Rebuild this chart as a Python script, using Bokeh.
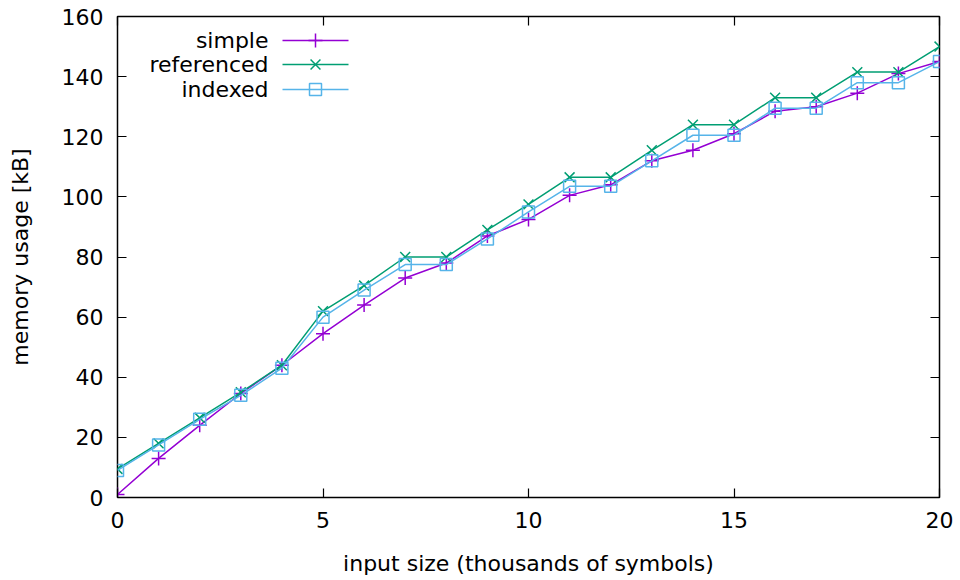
from bokeh.plotting import figure
from bokeh.models import LinearAxis, Range1d, FixedTicker, Label
from bokeh.embed import file_html
from bokeh.resources import INLINE

# ---- data ----
sizes = list(range(0, 21))
simple = [1, 13, 24, 34.6, 44, 54.5, 64, 73, 78, 87, 92.5, 100.5, 104, 112, 115.5,
          121, 128.5, 130, 134.5, 141, 145]
referenced = [9.5, 18, 26.5, 35, 44, 62, 70.5, 80, 80, 89, 97.5, 106.5, 106.5, 115.5,
              124, 124, 133, 133, 141.5, 141.5, 150]
indexed = [9, 17.5, 26, 34, 43, 60, 69, 77.5, 77.5, 86, 95, 103.5, 103.5, 112, 120.5,
           120.5, 129.5, 129.5, 138, 138, 145]
series_names = ["simple", "referenced", "indexed"]
series_colors = ["#9400d3", "#009e73", "#56b4e9"]
x_ticks = [0, 5, 10, 15, 20]
y_ticks = [0, 20, 40, 60, 80, 100, 120, 140, 160]

FONT = "DejaVu Sans"
FS = "22px"

p = figure(width=960, height=580, output_backend="svg", toolbar_location=None,
           x_range=Range1d(0, 20), y_range=Range1d(0, 160),
           min_border_left=117, min_border_right=21, min_border_top=16, min_border_bottom=83,
           x_axis_label="input size (thousands of symbols)",
           y_axis_label="memory usage [kB]")
p.grid.visible = False
p.outline_line_color = "black"
p.outline_line_width = 1.5
p.background_fill_color = "white"
p.border_fill_color = "white"

def style_axis(ax, ticks, labels=True):
    ax.ticker = FixedTicker(ticks=ticks)
    ax.axis_line_color = None
    ax.major_tick_in = 9
    ax.major_tick_out = 0
    ax.minor_tick_in = 0
    ax.minor_tick_out = 0
    ax.major_tick_line_color = "black"
    ax.major_tick_line_width = 1.2
    ax.major_label_text_font = FONT
    ax.major_label_text_font_size = FS
    ax.major_label_text_color = "black"
    ax.axis_label_text_font = FONT
    ax.axis_label_text_font_size = FS
    ax.axis_label_text_font_style = "normal"
    ax.axis_label_text_color = "black"
    if not labels:
        ax.major_label_overrides = {t: "" for t in ticks}
        ax.major_label_standoff = 0

style_axis(p.xaxis[0], x_ticks)
style_axis(p.yaxis[0], y_ticks)
p.xaxis[0].major_label_standoff = 14
p.xaxis[0].axis_label_standoff = 20
p.yaxis[0].major_label_standoff = 14
p.yaxis[0].axis_label_standoff = 26

top_ax = LinearAxis()
style_axis(top_ax, x_ticks, labels=False)
p.add_layout(top_ax, "above")
right_ax = LinearAxis()
style_axis(right_ax, y_ticks, labels=False)
p.add_layout(right_ax, "right")

all_series = [simple, referenced, indexed]
markers = ["cross", "x", "square"]
sizes_m = [14, 14, 12]
for vals, name, col, mk, ms in zip(all_series, series_names, series_colors, markers, sizes_m):
    p.line(sizes, vals, line_color=col, line_width=1.5)
    p.scatter(sizes, vals, marker=mk, size=ms, line_color=col, fill_color=None, line_width=1.5)

# ---- custom gnuplot-style legend (text right-aligned, sample on the right) ----
def sx(px):  # window pixel x -> data x
    return (px - 117) / (939 - 117) * 20

def sy(py):  # window pixel y -> data y
    return (497 - py) / (497 - 16) * 160

legend_rows = [40, 64, 89]
for name, col, mk, ms, ry in zip(series_names, series_colors, markers, sizes_m, legend_rows):
    p.add_layout(Label(x=sx(268), y=sy(ry), text=name, text_align="right",
                       text_baseline="middle", text_font=FONT, text_font_size=FS,
                       text_color="black"))
    p.line([sx(282), sx(348)], [sy(ry), sy(ry)], line_color=col, line_width=1.5)
    p.scatter([sx(315)], [sy(ry)], marker=mk, size=ms, line_color=col,
              fill_color=None, line_width=1.5)

open("out.html", "w").write(file_html(p, INLINE))
